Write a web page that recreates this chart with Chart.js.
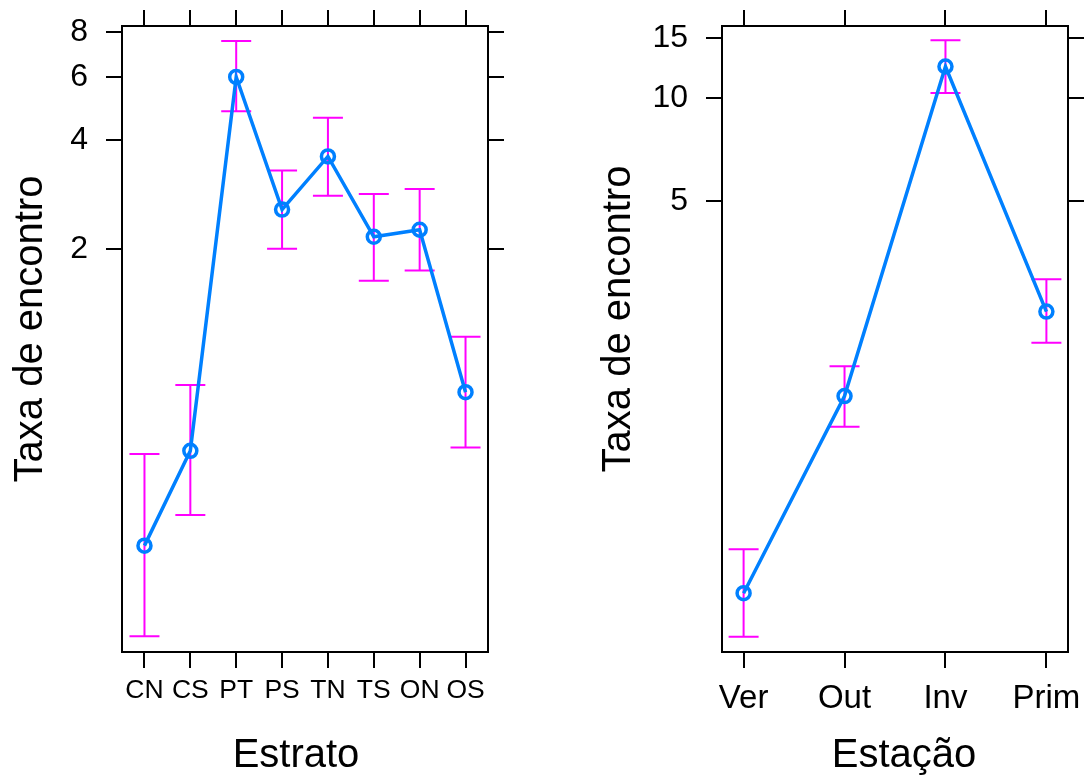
<!DOCTYPE html>
<html>
<head>
<meta charset="utf-8">
<script src="https://cdn.jsdelivr.net/npm/chart.js@4/dist/chart.umd.min.js"></script>
<style>
body { margin: 0; background: #fff; }
#wrap { position: relative; width: 1086px; height: 776px; }
canvas { position: absolute; top: 0; }
#estratoChart { left: 0; }
#estacaoChart { left: 543px; }
</style>
</head>
<body>
<div id="wrap">
<canvas id="estratoChart" width="543" height="776"></canvas>
<canvas id="estacaoChart" width="543" height="776"></canvas>
</div>
<script>
// valores (escala log)
const estratoLabels = ["CN", "CS", "PT", "PS", "TN", "TS", "ON", "OS"];
const estratoTaxa = [0.30, 0.55, 6.0, 2.57, 3.61, 2.16, 2.26, 0.80];
const estratoLower = [0.168, 0.365, 4.82, 2.0, 2.81, 1.63, 1.74, 0.562];
const estratoUpper = [0.539, 0.837, 7.55, 3.30, 4.62, 2.84, 2.93, 1.14];
const estratoTicks = [2, 4, 6, 8];

const estacaoLabels = ["Ver", "Out", "Inv", "Prim"];
const estacaoTaxa = [0.354, 1.34, 12.4, 2.37];
const estacaoLower = [0.264, 1.09, 10.37, 1.92];
const estacaoUpper = [0.476, 1.64, 14.8, 2.95];
const estacaoTicks = [5, 10, 15];

const FONT = "'Liberation Sans', Arial, Helvetica, sans-serif";

// barras de erro desenhadas antes da linha
const errorBars = {
    id: "errorBars",
    beforeDatasetsDraw: function(chart) {
        const ds = chart.data.datasets[0];
        const xs = chart.scales.x;
        const ys = chart.scales.y;
        const ctx = chart.ctx;
        ctx.save();
        ctx.strokeStyle = "#ff00ff";
        ctx.lineWidth = 2;
        ds.data.forEach(function(p, i) {
            const x = xs.getPixelForValue(p.x);
            const top = ys.getPixelForValue(ds.upper[i]);
            const bottom = ys.getPixelForValue(ds.lower[i]);
            ctx.beginPath();
            ctx.moveTo(x, top);
            ctx.lineTo(x, bottom);
            ctx.moveTo(x - 15, top);
            ctx.lineTo(x + 15, top);
            ctx.moveTo(x - 15, bottom);
            ctx.lineTo(x + 15, bottom);
            ctx.stroke();
        });
        ctx.restore();
    }
};

const axisTitles = {
    id: "axisTitles",
    afterDraw: function(chart, args, opts) {
        const ctx = chart.ctx;
        ctx.save();
        ctx.fillStyle = "#000";
        ctx.font = "40px " + FONT;
        ctx.textAlign = "center";
        ctx.textBaseline = "alphabetic";
        ctx.fillText(opts.xText, opts.xAt[0], opts.xAt[1]);
        ctx.translate(opts.yAt[0], opts.yAt[1]);
        ctx.rotate(-Math.PI / 2);
        ctx.fillText(opts.yText, 0, 0);
        ctx.restore();
    }
};

// tamanho fixo dos eixos, sem o padding automatico dos rotulos
function fixSize(w, h) {
    return function(s) {
        if (w !== null) s.width = w;
        if (h !== null) s.height = h;
        s.paddingTop = 0;
        s.paddingBottom = 0;
        s.paddingLeft = 0;
        s.paddingRight = 0;
    };
}

function makePanel(id, labels, values, lower, upper, yTicks, cfg) {
    const xMin = 1 - cfg.pad;
    const xMax = labels.length + cfg.pad;
    const catTicks = function(scale) {
        scale.ticks = labels.map(function(l, i) { return { value: i + 1 }; });
    };
    const valTicks = function(scale) {
        scale.ticks = yTicks.map(function(v) { return { value: v }; });
    };
    const grid = { drawOnChartArea: false, drawTicks: true, tickLength: 16, color: "#000", lineWidth: 2 };
    const border = { display: true, color: "#000", width: 2 };

    return new Chart(document.getElementById(id), {
        type: "line",
        data: {
            datasets: [{
                data: values.map(function(v, i) { return { x: i + 1, y: v }; }),
                lower: lower,
                upper: upper,
                borderColor: "#0080ff",
                borderWidth: 3.5,
                tension: 0,
                pointRadius: 6.5,
                pointBorderWidth: 3.5,
                pointBorderColor: "#0080ff",
                pointBackgroundColor: "rgba(0,0,0,0)"
            }]
        },
        options: {
            responsive: false,
            animation: false,
            layout: { padding: 0 },
            plugins: {
                legend: { display: false },
                tooltip: { enabled: false },
                axisTitles: { xText: cfg.xTitle, yText: "Taxa de encontro", xAt: cfg.xTitleAt, yAt: cfg.yTitleAt }
            },
            scales: {
                x: {
                    type: "linear", position: "bottom", min: xMin, max: xMax,
                    afterBuildTicks: catTicks,
                    afterFit: fixSize(null, 124),
                    grid: grid, border: border,
                    ticks: {
                        color: "#000", font: { family: FONT, size: cfg.xFont }, padding: cfg.xPad,
                        maxRotation: 0, autoSkip: false,
                        callback: function(v) { return labels[v - 1]; }
                    }
                },
                x2: {
                    type: "linear", position: "top", min: xMin, max: xMax,
                    afterBuildTicks: catTicks,
                    afterFit: fixSize(null, 26),
                    grid: grid, border: border,
                    ticks: { display: false }
                },
                y: {
                    type: "logarithmic", position: "left", min: cfg.yMin, max: cfg.yMax,
                    afterBuildTicks: valTicks,
                    afterFit: fixSize(cfg.left, null),
                    grid: grid, border: border,
                    ticks: {
                        color: "#000", font: { family: FONT, size: 32 }, padding: 18,
                        callback: function(v) { return String(v); }
                    }
                },
                y2: {
                    type: "logarithmic", position: "right", min: cfg.yMin, max: cfg.yMax,
                    afterBuildTicks: valTicks,
                    afterFit: fixSize(cfg.right, null),
                    grid: grid, border: border,
                    ticks: { display: false }
                }
            }
        },
        plugins: [errorBars, axisTitles]
    });
}

makePanel("estratoChart", estratoLabels, estratoTaxa, estratoLower, estratoUpper, estratoTicks, {
    pad: 0.49, yMin: 0.152, yMax: 8.31, left: 122, right: 55,
    xFont: 26.5, xPad: 7, xTitle: "Estrato", xTitleAt: [296, 767], yTitleAt: [42, 329]
});

makePanel("estacaoChart", estacaoLabels, estacaoTaxa, estacaoLower, estacaoUpper, estacaoTicks, {
    pad: 0.214, yMin: 0.238, yMax: 16.3, left: 179, right: 18,
    xFont: 33, xPad: 11, xTitle: "Estação", xTitleAt: [361, 767], yTitleAt: [87, 319]
});
</script>
</body>
</html>
